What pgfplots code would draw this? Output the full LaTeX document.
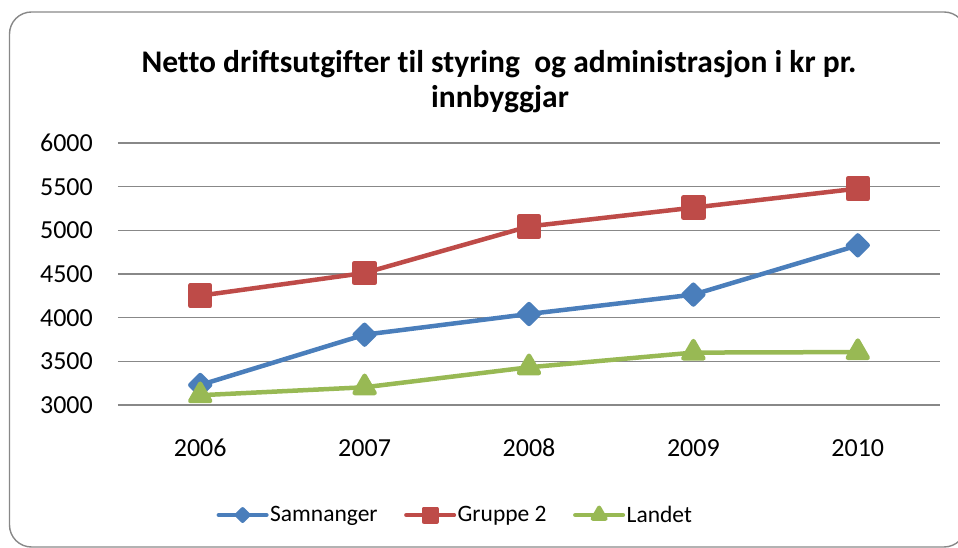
\documentclass[border=0pt]{standalone}
\usepackage{pgfplots}
\pgfplotsset{compat=1.18}
\usepackage{fontspec}
\setmainfont{Carlito}[Ligatures={NoCommon}]
\definecolor{cblue}{HTML}{4A7EBB}
\definecolor{cred}{HTML}{BE4B48}
\definecolor{cgreen}{HTML}{98B954}
\definecolor{cgrid}{HTML}{888888}
\begin{document}
\begin{tikzpicture}[x=1pt,y=1pt]
\begin{axis}[
  at={(0,0)}, anchor=south west,
  scale only axis, width=822pt, height=262pt,
  xmin=-0.5, xmax=4.5, ymin=3000, ymax=6000,
  xtick={0,1,2,3,4}, xticklabels={2006,2007,2008,2009,2010},
  ytick={3000,3500,...,6000},
  ymajorgrids,
  major grid style={draw=cgrid, line width=1.4pt},
  axis line style={draw=none},
  tick style={draw=none},
  /pgf/number format/1000 sep={},
  /pgf/number format/assume math mode=true,
  ticklabel style={font=\fontsize{26}{30}\selectfont, inner sep=0pt},
  yticklabel shift=25pt,
  xticklabel shift=34pt,
  legend columns=3,
  legend style={at={(0.41,-0.42)}, anchor=center, draw=none, fill=none,
    font=\fontsize{23.5}{28}\selectfont,
    nodes={inner sep=1.5pt},
    /tikz/every even column/.append style={column sep=25pt}},
  legend image code/.code={%
    \draw[line width=4pt, line cap=round, mark repeat=2, mark phase=2] plot coordinates {(0pt,0pt) (24pt,0pt) (48pt,0pt)};},
]
\addplot[cblue, line width=4.5pt, line join=round, mark=square*, mark size=7pt,
  mark options={rotate=45, fill=cblue, draw=none, solid},
  legend image post style={mark size=4.2pt}]
  coordinates {(0,3229) (1,3805) (2,4042) (3,4264) (4,4828)};
\addlegendentry{Samnanger}
\addplot[cred, line width=4.5pt, line join=round, mark=square*, mark size=10pt,
  mark options={fill=cred, draw=none, solid},
  legend image post style={mark size=6.5pt}]
  coordinates {(0,4252) (1,4512) (2,5045) (3,5260) (4,5478)};
\addlegendentry{Gruppe 2}
\addplot[cgreen, line width=4.5pt, line join=round, mark=triangle*, mark size=11.5pt,
  mark options={fill=cgreen, draw=none, solid},
  legend image post style={mark size=7.5pt}]
  coordinates {(0,3112) (1,3203) (2,3432) (3,3600) (4,3606)};
\addlegendentry{Landet}
\end{axis}
\draw[cgrid, line width=1.4pt, rounded corners=22pt] (-108.5,-142) rectangle (848,393);
\node[anchor=base, inner sep=0pt, font=\fontsize{31.5}{38}\selectfont\bfseries] at (381,332) {Netto driftsutgifter til styring\ \ og administrasjon i kr pr.};
\node[anchor=base, inner sep=0pt, font=\fontsize{31.5}{38}\selectfont\bfseries] at (382,297) {innbyggjar};
\pgfresetboundingbox
\useasboundingbox (-118,-143) rectangle (840,405);
\end{tikzpicture}
\end{document}
